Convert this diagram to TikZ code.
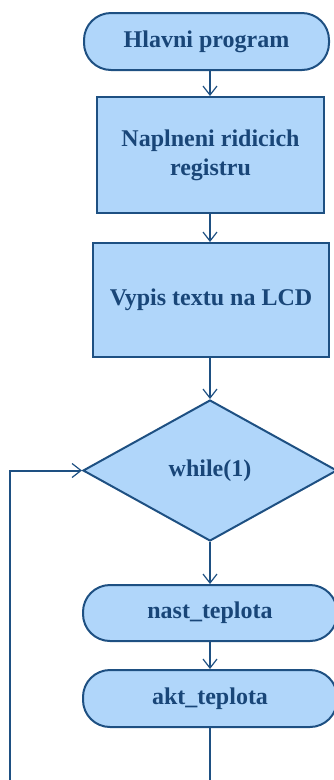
\documentclass[tikz,border=0pt]{standalone}
\usepackage{fontspec}
\setmainfont{Liberation Serif}
\usetikzlibrary{shapes.geometric,arrows.meta}
\definecolor{lineblue}{RGB}{30,80,130}
\definecolor{fillblue}{RGB}{176,214,250}
\definecolor{textblue}{RGB}{25,70,120}
\tikzset{
  base/.style={draw=lineblue, fill=fillblue, line width=2pt, text=textblue,
    font=\fontsize{24}{29}\selectfont\bfseries, inner sep=0pt, align=center},
  term/.style={base, rectangle, rounded corners=27pt},
  proc/.style={base, rectangle},
  dec/.style={base, diamond},
  arr/.style={draw=lineblue, line width=2pt, -{Straight Barb[length=9pt,width=14pt,line width=1.2pt]}},
  ln/.style={draw=lineblue, line width=2pt}
}
\begin{document}
\begin{tikzpicture}[x=1pt,y=-1pt]
\useasboundingbox (0,0) rectangle (334,780);
\node[term, minimum width=245pt, minimum height=57pt] (hp) at (206.5,41.5) {Hlavni program};
\node[proc, minimum width=227pt, minimum height=116pt] (nr) at (210.5,155) {Naplneni ridicich\\registru};
\node[proc, minimum width=236pt, minimum height=114pt] (vt) at (211,300) {Vypis textu na LCD};
\node[dec, minimum width=254pt, minimum height=141pt] (wh) at (210,470.5) {while(1)};
\node[term, minimum width=254pt, minimum height=56pt] (nt) at (210,613) {nast\_teplota};
\node[term, minimum width=254pt, minimum height=57pt] (at) at (210,698.5) {akt\_teplota};
\coordinate (lb) at (10,782);
\coordinate (ab) at (210,782);
\draw[arr] (hp.south -| wh.north) -- (nr.north -| wh.north);
\draw[arr] (nr.south -| wh.north) -- (vt.north -| wh.north);
\draw[arr] (vt.south -| wh.north) -- (wh.north);
\draw[arr] (wh.south) -- (nt.north);
\draw[arr] (nt.south) -- (at.north);
\draw[ln] (at.south) -- (ab);
\draw[arr] (lb) |- (wh.west);
\end{tikzpicture}
\end{document}
